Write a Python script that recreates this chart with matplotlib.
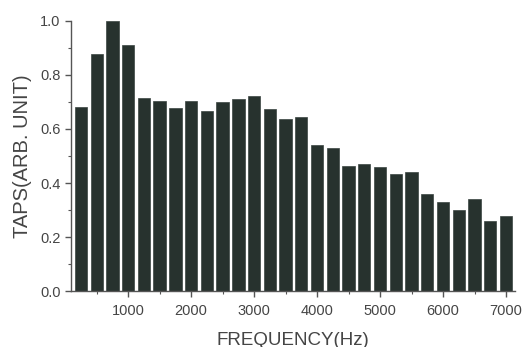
import matplotlib
matplotlib.use("Agg")
import matplotlib.pyplot as plt
from matplotlib.ticker import MultipleLocator

freqs = [250, 500, 750, 1000, 1250, 1500, 1750, 2000, 2250, 2500, 2750, 3000,
         3250, 3500, 3750, 4000, 4250, 4500, 4750, 5000, 5250, 5500, 5750, 6000,
         6250, 6500, 6750, 7000]
taps = [0.683, 0.878, 0.999, 0.910, 0.716, 0.703, 0.678, 0.705, 0.668, 0.699,
        0.712, 0.721, 0.675, 0.637, 0.646, 0.540, 0.528, 0.464, 0.470, 0.460,
        0.432, 0.441, 0.358, 0.330, 0.301, 0.341, 0.260, 0.278]
xticks = [1000, 2000, 3000, 4000, 5000, 6000, 7000]
yticks = [0.0, 0.2, 0.4, 0.6, 0.8, 1.0]

plt.rcParams['font.family'] = ['Liberation Sans', 'DejaVu Sans']
text_color = '#454545'

fig = plt.figure(figsize=(5.27, 3.47), dpi=100)
ax = fig.add_axes([0.135, 0.161, 0.842, 0.779])
ax.bar(freqs, taps, width=195, color='#27322e', edgecolor='#3a4440', linewidth=0.5)

ax.set_xlim(95, 7140)
ax.set_ylim(0, 1.0)
ax.set_xticks(xticks)
ax.set_yticks(yticks)
ax.set_yticklabels([f"{v:.1f}" for v in yticks])
ax.xaxis.set_minor_locator(MultipleLocator(500))
ax.yaxis.set_minor_locator(MultipleLocator(0.1))

for s in ['top', 'right']:
    ax.spines[s].set_visible(False)
for s in ['left', 'bottom']:
    ax.spines[s].set_color('#555555')
    ax.spines[s].set_linewidth(1.0)

ax.tick_params(axis='both', which='major', direction='out', length=4, width=1,
               colors='#555555', labelcolor=text_color, labelsize=10.5)
ax.tick_params(axis='x', which='major', pad=5)
ax.tick_params(axis='both', which='minor', direction='out', length=2.5, width=0.8,
               colors='#555555')

ax.set_xlabel('FREQUENCY(Hz)', fontsize=13.5, color=text_color, labelpad=10)
ax.set_ylabel('TAPS(ARB. UNIT)', fontsize=14.5, color=text_color, labelpad=6)

fig.savefig('out.png', dpi=100, facecolor='white')
